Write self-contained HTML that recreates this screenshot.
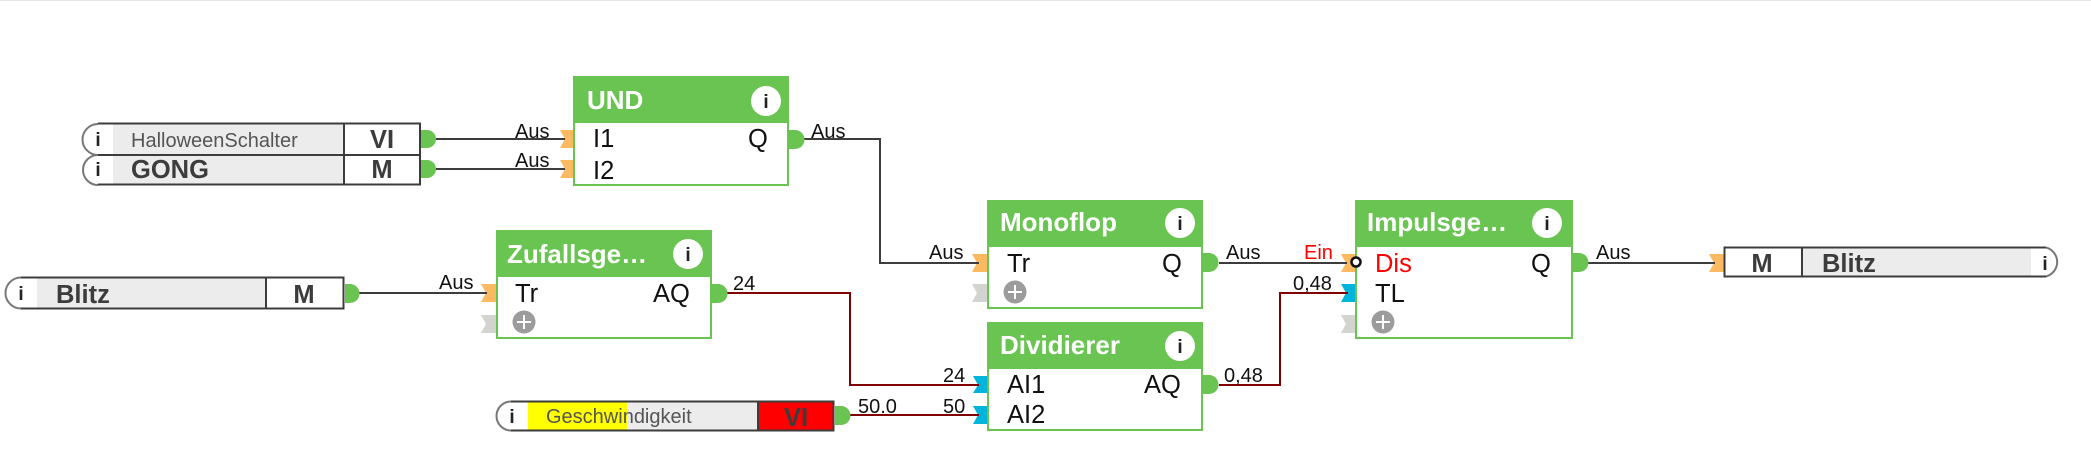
<!DOCTYPE html>
<html><head><meta charset="utf-8"><style>
html,body{margin:0;padding:0;background:#fff;width:2091px;height:470px;overflow:hidden}
svg{display:block}
text{font-family:"Liberation Sans",sans-serif}
.t{font-size:26px;font-weight:bold;fill:#fff}
.p{font-size:25.500px;fill:#111}
.l{font-size:20px;fill:#111}
.n{font-size:25.500px;font-weight:bold;fill:#3c3c3c}
.s{font-size:20px;fill:#555}
.i{font-size:19px;font-weight:bold;fill:#222;text-anchor:middle}
.b{fill:#fff;stroke:#6ac451;stroke-width:2}
.h{fill:#6ac451}
.d{fill:#6ac451}
.o{fill:#fbb962}.g{fill:#d3d3cf}.c{fill:#00b4dc}
.w{fill:none;stroke:#3c3c3c;stroke-width:2}
.r{fill:none;stroke:#800000;stroke-width:2}
.f{fill:none;stroke:#3c3c3c;stroke-width:2}
.e{fill:none;stroke:#777;stroke-width:2}
.pc{fill:#9c9c9c}
.pl{stroke:#fff;stroke-width:2}
</style></head><body>
<svg width="2091" height="470" viewBox="0 0 2091 470" xmlns="http://www.w3.org/2000/svg">
<rect x="0" y="0" width="2091" height="1" fill="#e6e6e6"/>

<!-- arrows -->
<path class="o" d="M560 130H574V148H560L565 139Z"/>
<path class="o" d="M560 160H574V178H560L565 169Z"/>
<path class="o" d="M481 284H497V302H481L486 293Z"/>
<path class="g" d="M481 315H497V333H481L486 324Z"/>
<path class="o" d="M972 254H988V272H972L977 263Z"/>
<path class="g" d="M972 284H988V302H972L977 293Z"/>
<path class="c" d="M973 376H988V393H973L978 385Z"/>
<path class="c" d="M973 406H988V424H973L978 415Z"/>
<path class="o" d="M1341 254H1356V272H1341L1346 263Z"/>
<path class="c" d="M1341 284H1356V302H1341L1346 293Z"/>
<path class="g" d="M1341 315H1356V333H1341L1346 324Z"/>
<path class="o" d="M1709 254H1725V272H1709L1714 263Z"/>

<!-- wires -->
<path class="w" d="M436 139H565M436 169H565"/>
<path class="w" d="M804 139H880V263H979"/>
<path class="w" d="M359 293H487"/>
<path class="w" d="M1219 263H1347"/>
<path class="w" d="M1588 263H1715"/>
<path class="r" d="M727 293H850V385H979"/>
<path class="r" d="M850 415H979"/>
<path class="r" d="M1219 385H1280V293H1348"/>

<!-- UND -->
<rect class="b" x="574" y="77" width="214" height="108"/>
<rect class="h" x="573" y="76" width="216" height="47"/>
<text class="t" x="587" y="109">UND</text>
<circle cx="766" cy="101" r="15" fill="#fff"/><text class="i" x="766" y="108">i</text>
<text class="p" x="593" y="147">I1</text><text class="p" x="593" y="179">I2</text>
<text class="p" x="748" y="147">Q</text>
<path class="d" d="M789 130h6a9.500 9.500 0 0 1 0 19h-6z"/>

<!-- Zufallsgenerator -->
<rect class="b" x="497" y="231" width="214" height="107"/>
<rect class="h" x="496" y="230" width="216" height="47"/>
<text class="t" x="507" y="263">Zufallsge…</text>
<circle cx="688" cy="254" r="15" fill="#fff"/><text class="i" x="688" y="261">i</text>
<text class="p" x="515" y="302">Tr</text><text class="p" x="653" y="302">AQ</text>
<circle class="pc" cx="524" cy="322" r="11.500"/><path class="pl" d="M517 322H531M524 315V329"/>
<path class="d" d="M712 284h6a9.500 9.500 0 0 1 0 19h-6z"/>

<!-- Monoflop -->
<rect class="b" x="988" y="201" width="214" height="107"/>
<rect class="h" x="987" y="200" width="216" height="47"/>
<text class="t" x="1000" y="231">Monoflop</text>
<circle cx="1180" cy="223" r="15" fill="#fff"/><text class="i" x="1180" y="230">i</text>
<text class="p" x="1007" y="272">Tr</text><text class="p" x="1162" y="272">Q</text>
<circle class="pc" cx="1015" cy="292" r="11.500"/><path class="pl" d="M1008 292H1022M1015 285V299"/>
<path class="d" d="M1203 253h6a9.500 9.500 0 0 1 0 19h-6z"/>

<!-- Dividierer -->
<rect class="b" x="988" y="323" width="214" height="107"/>
<rect class="h" x="987" y="322" width="216" height="47"/>
<text class="t" x="1000" y="354">Dividierer</text>
<circle cx="1180" cy="346" r="15" fill="#fff"/><text class="i" x="1180" y="353">i</text>
<text class="p" x="1007" y="393">AI1</text><text class="p" x="1007" y="423">AI2</text>
<text class="p" x="1144" y="393">AQ</text>
<path class="d" d="M1203 375h6a9.500 9.500 0 0 1 0 19h-6z"/>

<!-- Impulsgeber -->
<rect class="b" x="1356" y="201" width="216" height="137"/>
<rect class="h" x="1355" y="200" width="218" height="47"/>
<text class="t" x="1367" y="231">Impulsge…</text>
<circle cx="1547" cy="223" r="15" fill="#fff"/><text class="i" x="1547" y="230">i</text>
<text class="p" x="1375" y="272" style="fill:#f00">Dis</text>
<text class="p" x="1375" y="302">TL</text>
<text class="p" x="1531" y="272">Q</text>
<circle class="pc" cx="1383" cy="322" r="11.500"/><path class="pl" d="M1376 322H1390M1383 315V329"/>
<circle cx="1356" cy="262" r="4.500" fill="#fff" stroke="#111" stroke-width="2.500"/>
<path class="d" d="M1573 253h6a9.500 9.500 0 0 1 0 19h-6z"/>

<!-- HalloweenSchalter / GONG -->
<rect x="113" y="124" width="231" height="60" fill="#ececec"/>
<rect x="344" y="124" width="76" height="60" fill="#fff"/>
<path class="e" d="M98 124A15.500 15.500 0 0 0 98 155A15 15 0 0 0 98 185"/>
<path class="f" d="M98 123.500H420V184.500H98M98 155H420M344 123.500V184.500"/>
<text class="i" x="98" y="146">i</text><text class="i" x="98" y="176">i</text>
<text class="s" x="131" y="147">HalloweenSchalter</text>
<text class="n" x="131" y="178">GONG</text>
<text class="n" x="382" y="148" text-anchor="middle">VI</text>
<text class="n" x="382" y="178" text-anchor="middle">M</text>
<path class="d" d="M421 130h6a9 9 0 0 1 0 18h-6z"/>
<path class="d" d="M421 160h6a9 9 0 0 1 0 18h-6z"/>

<!-- Blitz left -->
<rect x="37" y="278" width="229" height="30" fill="#ececec"/>
<path class="e" d="M21 277.500A15.500 15.500 0 0 0 21 308.500"/>
<path class="f" d="M21 277.500H343.500V308.500H21M266 277.500V308.500"/>
<text class="i" x="21" y="300">i</text>
<text class="n" x="56" y="303">Blitz</text>
<text class="n" x="304" y="303" text-anchor="middle">M</text>
<path class="d" d="M345 284h5a9.500 9.500 0 0 1 0 19h-5z"/>

<!-- Geschwindigkeit -->
<rect x="528" y="402" width="99" height="28" fill="#ff0"/>
<rect x="627" y="402" width="131" height="28" fill="#ececec"/>
<rect x="758" y="402" width="76" height="28" fill="#f00"/>
<path class="e" d="M511 401.500A14.500 14.500 0 0 0 511 430.500"/>
<path class="f" d="M511 401.500H833.500V430.500H511M758 401.500V430.500"/>
<text class="i" x="512" y="423">i</text>
<text class="s" x="546" y="423">Geschwindigkeit</text>
<text class="n" x="796" y="426" text-anchor="middle">VI</text>
<path class="d" d="M835 406h6a9.500 9.500 0 0 1 0 19h-6z"/>

<!-- Blitz right -->
<rect x="1802" y="248" width="229" height="28" fill="#ececec"/>
<path class="e" d="M2046 247.500A15 15 0 0 1 2046 276.500"/>
<path class="f" d="M2046 247.500H1724.500V276.500H2046M1802 247.500V276.500"/>
<text class="i" x="2045" y="270">i</text>
<text class="n" x="1762" y="272" text-anchor="middle">M</text>
<text class="n" x="1822" y="272">Blitz</text>

<!-- labels -->
<text class="l" x="515" y="138">Aus</text>
<text class="l" x="515" y="167">Aus</text>
<text class="l" x="811" y="138">Aus</text>
<text class="l" x="439" y="289">Aus</text>
<text class="l" x="929" y="259">Aus</text>
<text class="l" x="1226" y="259">Aus</text>
<text class="l" x="1304" y="259" style="fill:#f00">Ein</text>
<text class="l" x="1596" y="259">Aus</text>
<text class="l" x="733" y="290">24</text>
<text class="l" x="943" y="382">24</text>
<text class="l" x="858" y="413">50.0</text>
<text class="l" x="943" y="413">50</text>
<text class="l" x="1224" y="382">0,48</text>
<text class="l" x="1293" y="290">0,48</text>
</svg>
</body></html>
